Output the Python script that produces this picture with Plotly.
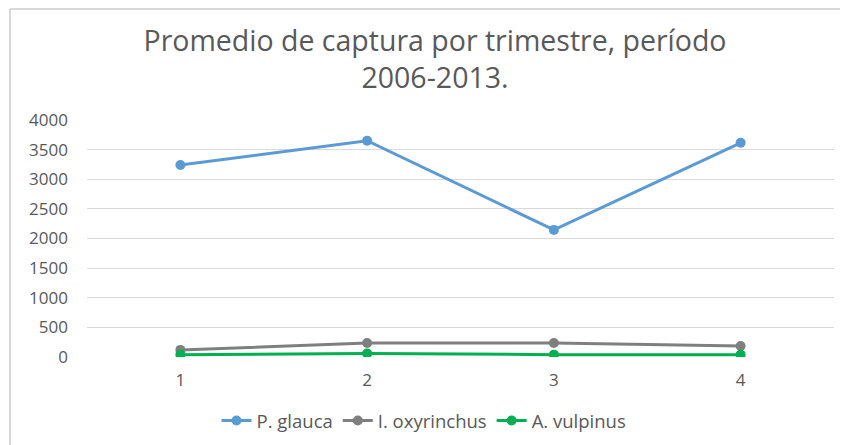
import plotly.graph_objects as go

trimestres = [1, 2, 3, 4]
p_glauca = [3240, 3650, 2145, 3615]
i_oxyrinchus = [120, 235, 235, 185]
a_vulpinus = [40, 60, 40, 40]

series = [
    ("P. glauca", p_glauca, "#5B9BD5"),
    ("I. oxyrinchus", i_oxyrinchus, "#7F7F7F"),
    ("A. vulpinus", a_vulpinus, "#00B050"),
]

fig = go.Figure()
for name, vals, color in series:
    fig.add_trace(go.Scatter(
        x=trimestres, y=vals, name=name, mode="lines+markers",
        line=dict(color=color, width=3),
        marker=dict(color=color, size=10),
    ))

# page has an 8px body offset, so positions are shifted by that
OFF = 8
W, H = 848, 445
ml, mr, mt, mb = 87 - OFF, 22, 120 - OFF, 96
pw, ph = W - ml - mr, H - mt - mb

def px(x):
    return (x - OFF - ml) / pw

def py(y):
    return (H - mb - (y - OFF)) / ph

fig.update_layout(
    width=W, height=H,
    margin=dict(l=ml, r=mr, t=mt, b=mb),
    paper_bgcolor="white", plot_bgcolor="white",
    font=dict(family="Open Sans", color="#595959", size=17),
    title=dict(
        text="Promedio de captura por trimestre, período<br>2006-2013.",
        x=(435 - OFF) / W, xref="container", xanchor="center",
        y=1 - (51 - OFF) / H, yref="container", yanchor="top",
        font=dict(size=28.5, color="#595959"),
    ),
    showlegend=True,
    legend=dict(
        orientation="h", x=px(424), xanchor="center", y=py(421), yanchor="middle",
        font=dict(size=18.5, color="#595959"),
    ),
    shapes=[
        dict(type="line", xref="paper", yref="paper",
             x0=px(10), x1=px(10), y0=py(9), y1=py(H + 10),
             line=dict(color="#D9D9D9", width=2)),
        dict(type="line", xref="paper", yref="paper",
             x0=px(10), x1=px(W + 10), y0=py(9), y1=py(9),
             line=dict(color="#D9D9D9", width=2)),
    ],
)
fig.update_xaxes(
    range=[0.5, 4.5], tickvals=trimestres, showgrid=False, zeroline=False,
    showline=False, ticks="", ticklabelstandoff=11,
    tickfont=dict(size=17, color="#595959"),
)
fig.update_yaxes(
    range=[0, 4000], dtick=500, showgrid=True, gridcolor="#D9D9D9", gridwidth=1,
    zeroline=False, showline=False, ticks="", ticklabelstandoff=18,
    tickfont=dict(size=17, color="#595959"),
)

fig.write_html("out.html")
